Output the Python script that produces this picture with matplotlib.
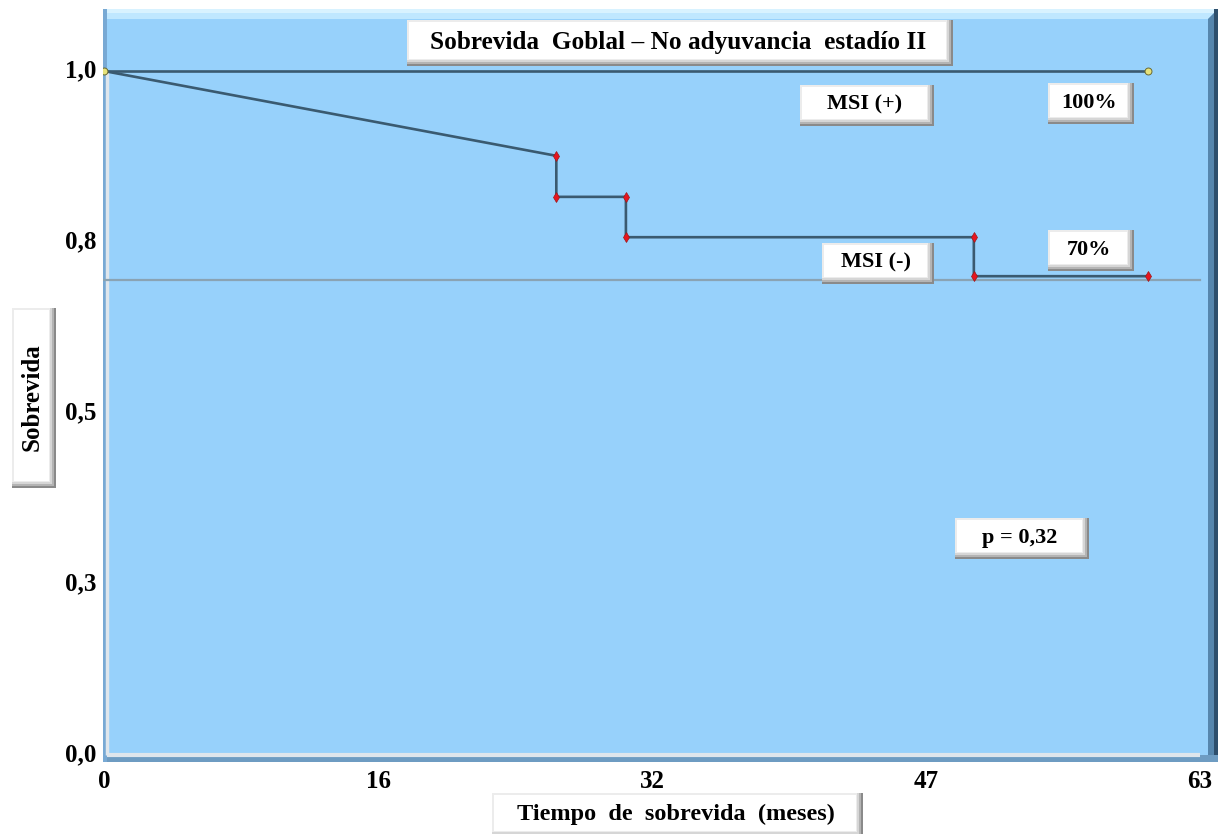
import matplotlib
matplotlib.use("Agg")
import matplotlib.pyplot as plt
from matplotlib.patches import Rectangle, Polygon

# Kaplan-Meier style survival data
time_pos = [0, 60]
surv_pos = [1.0, 1.0]

time_neg = [0, 26, 26, 30, 30, 50, 50, 60]
surv_neg = [1.0, 0.876, 0.816, 0.816, 0.757, 0.757, 0.70, 0.70]

ref_level = 0.694

xticks = [0, 15.75, 31.5, 47.25, 63]
xtick_labels = ["0", "16", "32", "47", "63"]
yticks = [0.0, 0.25, 0.5, 0.75, 1.0]
ytick_labels = ["0,0", "0,3", "0,5", "0,8", "1,0"]

title = "Sobrevida  Goblal – No adyuvancia  estadío II"
xlabel = "Tiempo  de  sobrevida  (meses)"
ylabel = "Sobrevida"
labels_in_plot = ["MSI (+)", "100%", "MSI (-)", "70%", "p = 0,32"]

W, H = 1222, 834
fig = plt.figure(figsize=(W / 100, H / 100), dpi=100)
fig.patch.set_facecolor("white")

SERIF = ["Liberation Serif", "DejaVu Serif"]

# plot area (pixel coords of the blue panel)
px0, px1, py0, py1 = 103, 1218, 9, 762
ax = fig.add_axes([px0 / W, 1 - py1 / H, (px1 - px0) / W, (py1 - py0) / H])
ax.set_facecolor("#97d1fb")

# data mapping: x 0->104px, 63->1200px ; y 0->755px, 1->71px
sx = (1200 - 104) / 63.0
sy = (755 - 71) / 1.0
ax.set_xlim(-(104 - px0) / sx, 63 + (px1 - 1200) / sx)
ax.set_ylim(-(py1 - 755) / sy, 1.0 + (71 - py0) / sy)
for s in ax.spines.values():
    s.set_visible(False)
ax.set_xticks([])
ax.set_yticks([])

xl = ax.get_xlim()
yl = ax.get_ylim()

# bevelled border of the panel
top_band = 10 / sy
ax.add_patch(Polygon([[xl[0], yl[1]], [xl[1], yl[1]], [xl[1] - 10 / sx, yl[1] - top_band],
                      [xl[0], yl[1] - top_band]], closed=True,
                     facecolor="#bfe7ff", edgecolor="none", zorder=1))
ax.add_patch(Rectangle((xl[0], yl[1] - 4 / sy), xl[1] - xl[0], 4 / sy,
                       facecolor="#d8f2ff", edgecolor="none", zorder=1))
ax.add_patch(Polygon([[xl[1], yl[1]], [xl[1], yl[0]], [xl[1] - 10 / sx, yl[0]],
                      [xl[1] - 10 / sx, yl[1] - top_band]], closed=True,
                     facecolor="#5686ad", edgecolor="none", zorder=1))
ax.add_patch(Rectangle((xl[1] - 4 / sx, yl[0]), 4 / sx, yl[1] - yl[0],
                       facecolor="#2e4f6c", edgecolor="none", zorder=1))
ax.add_patch(Rectangle((xl[0], yl[0]), xl[1] - xl[0], 7 / sy,
                       facecolor="#6e9cc2", edgecolor="none", zorder=1))
ax.add_patch(Rectangle((xl[0], yl[0]), 4 / sx, yl[1] - yl[0],
                       facecolor="#78a9d4", edgecolor="none", zorder=1))
# axis lines (light)
ax.plot([0.15, 63], [0, 0], color="#dfe6ec", lw=3, zorder=2, solid_capstyle="butt")
ax.plot([0.15, 0.15], [0, 1.0], color="#dfe6ec", lw=2.5, zorder=2, solid_capstyle="butt")

# reference level
ax.plot([0, 63], [ref_level, ref_level], color="#8aa3b3", lw=1.6, zorder=3)

# survival curves
line_kw = dict(color="#3a5a70", lw=1.9, zorder=4, solid_joinstyle="miter")
ax.plot(time_pos, surv_pos, **line_kw)
ax.plot(time_neg, surv_neg, **line_kw)
ax.plot(time_neg[1:], surv_neg[1:], linestyle="none", marker="d", markersize=5.5,
        markerfacecolor="#e8141e", markeredgecolor="#9a1a1a", markeredgewidth=0.5, zorder=5)
ax.plot(time_pos, surv_pos, linestyle="none", marker="o", markersize=5,
        markerfacecolor="#e6e27a", markeredgecolor="#6b6a30", markeredgewidth=0.7, zorder=5)

# tick labels drawn as text
for xv, lab in zip(xticks, xtick_labels):
    ax.text(xv, yl[0] - 8 / sy, lab, ha="center", va="top", fontsize=18,
            fontweight="bold", family=SERIF, clip_on=False)
for yv, lab in zip(yticks, ytick_labels):
    ax.text(xl[0] - 7 / sx, yv, lab, ha="right", va="center", fontsize=18,
            fontweight="bold", family=SERIF, clip_on=False)

# overlay in pixel coordinates for the button-style labels
ov = fig.add_axes([0, 0, 1, 1], facecolor="none")
ov.set_xlim(0, W)
ov.set_ylim(H, 0)
ov.axis("off")


def button(x0, y0, x1, y1, text, fs=16, rotation=0):
    ov.add_patch(Rectangle((x0, y0), x1 - x0, y1 - y0, facecolor="#8a8a8a",
                           edgecolor="none", zorder=10))
    ov.add_patch(Rectangle((x0, y0), x1 - x0 - 2, y1 - y0 - 2, facecolor="#b4b4b4",
                           edgecolor="none", zorder=10))
    ov.add_patch(Rectangle((x0, y0), x1 - x0 - 4, y1 - y0 - 4, facecolor="#d6d6d6",
                           edgecolor="none", zorder=10))
    ov.add_patch(Rectangle((x0, y0), x1 - x0 - 6, y1 - y0 - 6, facecolor="#ececec",
                           edgecolor="none", zorder=10))
    ov.add_patch(Rectangle((x0 + 2, y0 + 2), x1 - x0 - 9, y1 - y0 - 9, facecolor="white",
                           edgecolor="none", zorder=11))
    ov.text((x0 + x1) / 2 - 2, (y0 + y1) / 2 - 1, text, ha="center", va="center",
            fontsize=fs, fontweight="bold", family=SERIF, rotation=rotation, zorder=12)


button(407, 20, 953, 66, title, fs=18.2)
button(800, 85, 934, 126, labels_in_plot[0], fs=16)
button(1048, 83, 1134, 124, labels_in_plot[1], fs=16)
button(822, 243, 934, 284, labels_in_plot[2], fs=16)
button(1048, 230, 1134, 271, labels_in_plot[3], fs=16)
button(955, 518, 1089, 559, labels_in_plot[4], fs=16)
button(12, 308, 56, 488, ylabel, fs=18, rotation=90)
button(492, 793, 863, 838, xlabel, fs=17.5)

fig.savefig("out.png", dpi=100, facecolor="white")
